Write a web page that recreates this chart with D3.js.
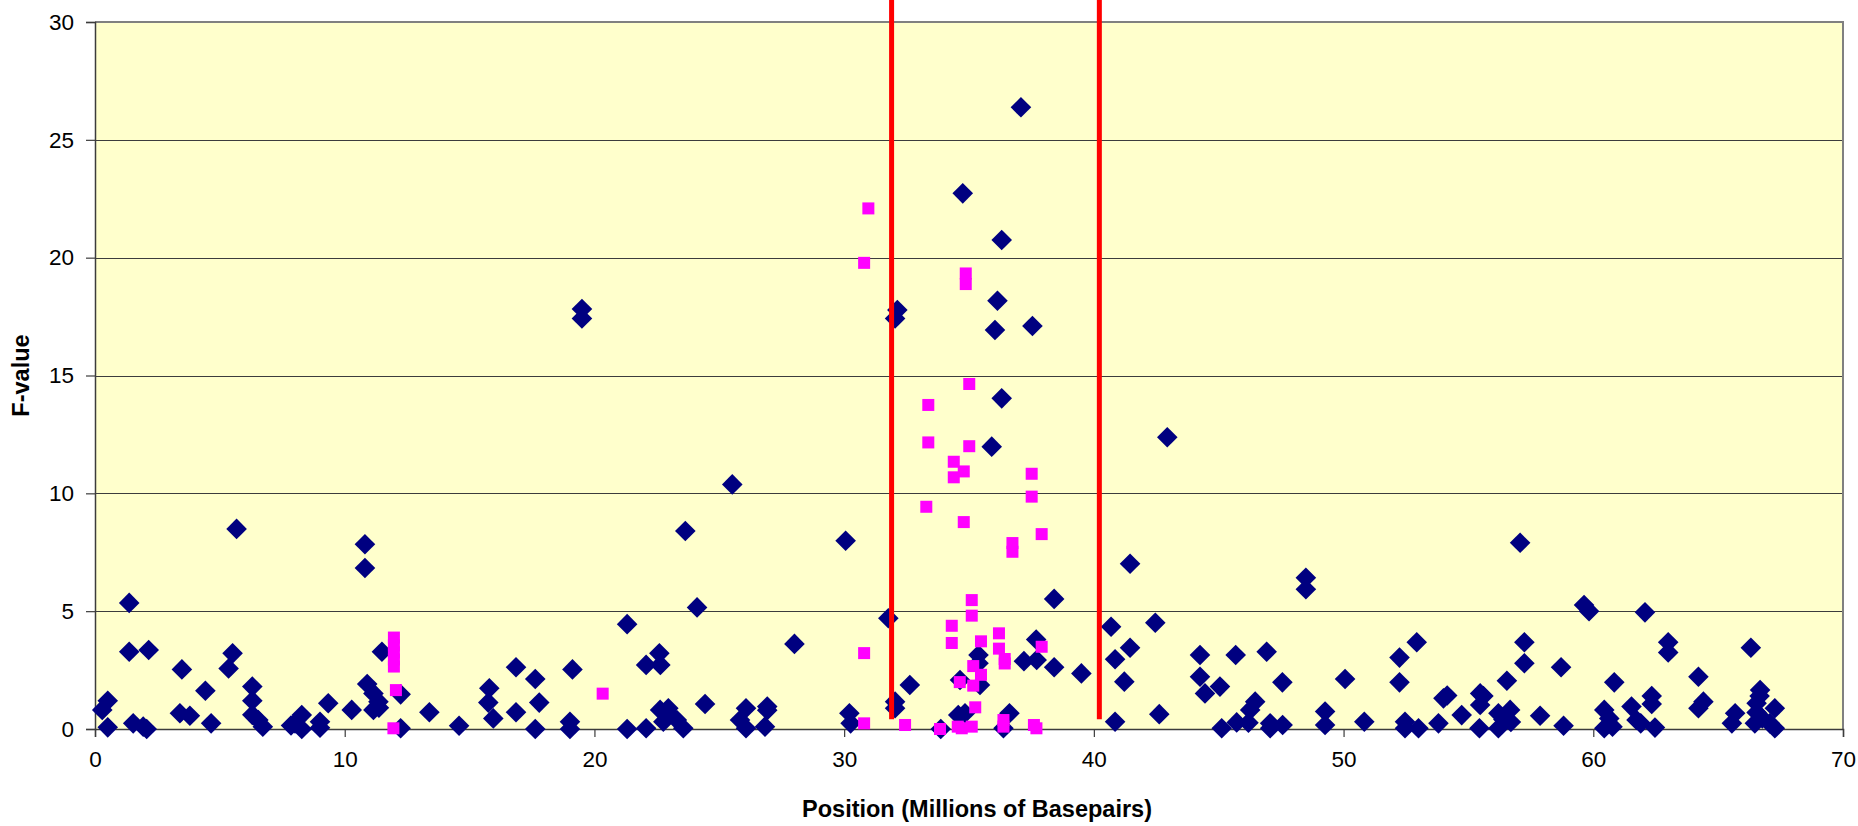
<!DOCTYPE html>
<html><head><meta charset="utf-8">
<script src="https://cdn.jsdelivr.net/npm/d3@7"></script>
<style>
html,body{margin:0;padding:0;background:#fff;}
svg{display:block;font-family:"Liberation Sans",Arial,sans-serif;}
</style></head><body>
<svg id="chart" width="1858" height="826"></svg>
<script>
// ---- data ----
const xTicks = [0, 10, 20, 30, 40, 50, 60, 70];
const yTicks = [0, 5, 10, 15, 20, 25, 30];
const xTitle = "Position (Millions of Basepairs)";
const yTitle = "F-value";
const markerPositions = [31.9, 40.22];
const markerBottom = 0.41;

const bluePos = [
 0.29,0.51,0.51,1.37,1.37,1.53,1.93,2.07,2.15,3.4,3.48,3.8,4.42,4.65,5.35,5.51,5.67,6.3,6.3,6.3,6.54,6.72,
 7.85,8.01,8.28,8.28,9.01,9.01,9.34,10.28,10.81,10.81,10.9,11.15,11.35,11.15,11.37,11.49,12.24,12.24,13.39,14.58,
 15.79,15.75,15.95,
 16.86,16.86,17.63,17.79,17.63,19.12,19.02,19.02,19.5,19.5,21.31,21.31,22.07,22.07,22.6,22.64,22.63,22.96,23.0,22.76,
 23.3,23.56,23.64,24.11,24.43,25.52,25.83,26.07,26.07,26.92,26.92,26.83,28.01,30.06,30.21,30.26,31.77,
 32.04,32.13,32.04,32.04,32.63,33.87,34.57,34.64,34.75,34.84,35.38,35.38,35.44,35.91,36.04,36.14,36.31,36.31,36.38,36.62,
 37.08,37.2,37.54,37.69,37.71,38.41,38.41,39.5,40.69,40.85,40.85,41.22,41.45,41.45,42.46,42.62,42.94,
 44.25,44.25,44.45,45.05,45.12,45.68,45.72,46.19,46.26,46.46,46.92,47.06,47.06,47.55,47.56,48.49,48.49,49.26,49.26,
 50.06,50.83,52.24,52.24,52.46,52.46,52.93,53.0,53.8,54.0,54.15,54.73,55.47,55.6,55.47,55.44,56.2,56.4,56.2,56.54,
 56.67,56.7,57.07,57.24,57.24,57.87,58.71,58.81,59.63,59.83,60.44,60.64,60.44,60.77,60.84,61.53,61.73,61.9,62.07,
 62.34,62.34,62.47,63.0,63.0,64.21,64.41,64.21,65.55,65.68,66.31,66.68,66.66,66.54,66.54,66.47,66.77,67.07,67.27,67.27
];
const blueF = [
 0.81,1.2,0.07,5.35,3.28,0.24,0.1,0.0,3.35,0.67,2.53,0.56,1.62,0.24,2.57,3.21,8.49,1.8,1.2,0.6,0.38,0.1,
 0.15,0.24,0.59,0.0,0.31,0.05,1.09,0.81,7.84,6.83,1.91,1.51,1.16,0.81,0.9,3.28,1.47,0.03,0.71,0.14,
 1.73,1.12,0.45,
 2.62,0.71,2.12,1.12,0.0,2.53,0.31,0.0,17.82,17.42,4.45,0.0,2.72,0.03,3.21,2.72,0.81,0.88,0.6,0.31,
 0.38,0.03,8.4,5.16,1.06,10.38,0.38,0.88,0.03,0.95,0.8,0.1,3.61,7.99,0.67,0.24,4.7,
 17.42,17.78,1.16,0.88,1.87,0.0,0.59,2.08,22.73,0.67,3.14,2.79,1.87,11.98,16.93,18.17,20.75,14.03,0.03,0.67,
 26.38,2.88,17.1,3.8,2.93,5.52,2.62,2.36,4.34,2.96,0.31,2.01,7.01,3.45,4.51,0.63,12.38,
 3.14,2.22,1.51,1.8,0.03,3.14,0.28,0.27,0.81,1.16,3.28,0.24,0.03,1.98,0.17,6.42,5.93,0.74,0.17,
 2.12,0.31,3.03,1.98,0.31,0.03,3.68,0.03,0.24,1.3,1.42,0.59,1.51,1.4,1.02,0.03,0.67,0.4,0.03,2.05,
 0.81,0.3,7.9,3.68,2.79,0.56,2.62,0.14,5.26,5.0,0.81,0.45,0.03,0.1,1.98,0.95,0.38,0.24,4.95,
 1.4,1.06,0.06,3.68,3.25,2.22,1.16,0.88,0.24,0.67,3.45,1.65,1.4,1.09,0.7,0.24,0.45,0.24,0.88,0.03
];

const pinkPos = [
 11.97,11.97,11.97,11.97,11.97,12.05,11.95,20.33,30.8,30.97,30.8,30.8,32.44,33.37,33.37,33.29,33.84,
 34.39,34.39,34.31,34.31,34.63,34.55,34.71,34.79,34.79,34.87,34.87,35.01,35.01,35.11,35.11,35.17,35.17,
 35.25,35.11,35.48,35.48,36.2,36.2,36.43,36.43,36.38,36.38,36.74,36.74,37.51,37.51,37.91,37.91,37.6,37.7
];
const pinkF = [
 3.88,3.55,3.25,2.95,2.65,1.65,0.03,1.5,19.78,22.09,3.22,0.24,0.17,13.75,12.16,9.43,0.0,
 11.34,10.68,4.38,3.65,1.99,0.1,0.03,10.93,8.78,19.33,18.88,14.64,12.0,5.47,4.81,2.67,1.84,
 0.92,0.1,3.72,2.3,4.06,3.41,2.97,2.78,0.38,0.1,7.89,7.52,10.83,9.86,8.27,3.49,0.17,0.03
];

// ---- layout ----
const W = 1858, H = 826;
const plot = {left: 95, right: 1843, top: 22, bottom: 729};
const svg = d3.select("#chart");

const x = d3.scaleLinear().domain([0, 70]).range([plot.left, plot.right]);
const y = d3.scaleLinear().domain([0, 30]).range([plot.bottom, plot.top]);

// background
svg.append("rect").attr("x", plot.left).attr("y", plot.top)
  .attr("width", plot.right - plot.left).attr("height", plot.bottom - plot.top)
  .attr("fill", "#FFFFCC");

// gridlines
svg.append("g").selectAll("line").data(yTicks.filter(d => d > 0 && d < 30)).join("line")
  .attr("x1", plot.left).attr("x2", plot.right)
  .attr("y1", d => Math.round(y(d)) + 0.5).attr("y2", d => Math.round(y(d)) + 0.5)
  .attr("stroke", "#3c3c3c").attr("stroke-width", 1.2);

// border top/right
svg.append("path")
  .attr("d", `M${plot.left},${plot.top}H${plot.right}V${plot.bottom}`)
  .attr("fill", "none").attr("stroke", "#808080").attr("stroke-width", 2);

// axes
const xAxis = d3.axisBottom(x).tickValues(xTicks).tickSize(8).tickPadding(14).tickFormat(d3.format("d"));
const yAxis = d3.axisLeft(y).tickValues(yTicks).tickSize(9).tickPadding(12).tickFormat(d3.format("d"));

const gx = svg.append("g").attr("transform", `translate(0,${plot.bottom})`).call(xAxis);
const gy = svg.append("g").attr("transform", `translate(${plot.left},0)`).call(yAxis);
[gx, gy].forEach(g => {
  g.select(".domain").attr("stroke", "#3c3c3c").attr("stroke-width", 1.5);
  g.selectAll(".tick line").attr("stroke", "#3c3c3c").attr("stroke-width", 1.2);
  g.selectAll(".tick text").attr("fill", "#000").attr("font-size", 22.5)
    .attr("font-family", "'Liberation Sans', Arial, sans-serif");
});

// blue diamonds
const r = 10.3;
const diamond = `M0,${-r}L${r},0L0,${r}L${-r},0Z`;
svg.append("g").selectAll("path").data(d3.range(bluePos.length)).join("path")
  .attr("d", diamond)
  .attr("transform", i => `translate(${x(bluePos[i])},${y(blueF[i])})`)
  .attr("fill", "#000080");

// pink squares
const s = 12;
svg.append("g").selectAll("rect").data(d3.range(pinkPos.length)).join("rect")
  .attr("x", i => x(pinkPos[i]) - s / 2).attr("y", i => y(pinkF[i]) - s / 2)
  .attr("width", s).attr("height", s)
  .attr("fill", "#FF00FF");

// red marker lines
svg.append("g").selectAll("line").data(markerPositions).join("line")
  .attr("x1", d => x(d)).attr("x2", d => x(d))
  .attr("y1", y(markerBottom)).attr("y2", 0)
  .attr("stroke", "#FF0000").attr("stroke-width", 5);

// titles
svg.append("text").attr("x", (plot.left + plot.right) / 2 + 8).attr("y", 817)
  .attr("text-anchor", "middle").attr("font-weight", "bold").attr("font-size", 23.5)
  .text(xTitle);
svg.append("text").attr("transform", `translate(29,${(plot.top + plot.bottom) / 2}) rotate(-90)`)
  .attr("text-anchor", "middle").attr("font-weight", "bold").attr("font-size", 23.5)
  .text(yTitle);
</script>
</body></html>
